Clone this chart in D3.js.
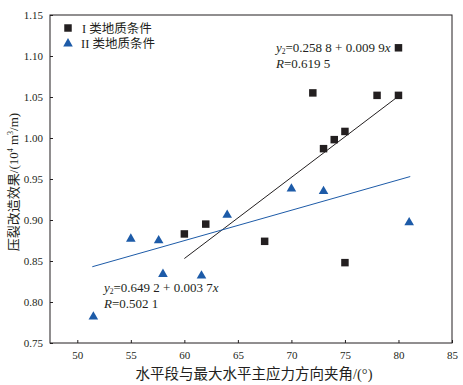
<!DOCTYPE html>
<head>
  <meta charset='utf-8'>
  <script src='https://d3js.org/d3.v7.min.js'></script>
  <style>
    body { margin: 0; background: #fff; }
    text { font-family: 'Liberation Serif', 'Times New Roman', 'Noto Sans CJK SC', serif; fill: #231f20; }
    .axis .domain { display: none; }
    .axis line { stroke: #231f20; }
  </style>
</head>

<body>
  <script>

// type I points (black squares)
const xI = [60, 62, 67.5, 72, 73, 74, 75, 75, 78, 80, 80];
const yI = [0.883, 0.895, 0.874, 1.055, 0.987, 0.998, 1.008, 0.848, 1.052, 1.052, 1.110];

// type II points (blue triangles)
const xII = [51.5, 55, 57.6, 58, 61.6, 64, 70, 73, 81];
const yII = [0.782, 0.877, 0.875, 0.834, 0.832, 0.906, 0.938, 0.935, 0.897];

// fitted lines, endpoints
const lineI = [[60, 0.853], [80, 1.051]];
const lineII = [[51.4, 0.843], [81.1, 0.953]];

const xTicks = [50, 55, 60, 65, 70, 75, 80, 85];
const yTicks = [0.75, 0.80, 0.85, 0.90, 0.95, 1.00, 1.05, 1.10, 1.15];

const legendLabels = ['I', 'II'];
const blue = '#1d5ba8', black = '#231f20';

const width = 463, height = 385,
  margin = {top: 15, right: 11, bottom: 42, left: 50},
  svg = d3.select('body').append('svg').attr('width', width).attr('height', height);

const x = d3.scaleLinear().domain([47.45, 85]).range([margin.left, width - margin.right]);
const y = d3.scaleLinear().domain([0.75, 1.15]).range([height - margin.bottom, margin.top]);

svg.append('rect')
  .attr('x', margin.left).attr('y', margin.top)
  .attr('width', width - margin.left - margin.right)
  .attr('height', height - margin.top - margin.bottom)
  .attr('fill', 'none').attr('stroke', '#231f20').attr('stroke-width', 1);

svg.append('g')
  .attr('class', 'axis')
  .attr('transform', `translate(0,${height - margin.bottom})`)
  .call(d3.axisBottom(x).tickValues(xTicks).tickSize(-3).tickPadding(8).tickFormat(d3.format('d')))
  .call(g => g.selectAll('text').attr('font-size', 11).attr('font-family', 'Liberation Serif').attr('fill', black));

svg.append('g')
  .attr('class', 'axis')
  .attr('transform', `translate(${margin.left},0)`)
  .call(d3.axisLeft(y).tickValues(yTicks).tickSize(-3).tickPadding(7).tickFormat(d3.format('.2f')))
  .call(g => g.selectAll('text').attr('font-size', 11).attr('font-family', 'Liberation Serif').attr('fill', black));

// fit lines
const line = d3.line().x(d => x(d[0])).y(d => y(d[1]));
svg.append('path').datum(lineI).attr('d', line).attr('fill', 'none').attr('stroke', black).attr('stroke-width', 1);
svg.append('path').datum(lineII).attr('d', line).attr('fill', 'none').attr('stroke', blue).attr('stroke-width', 1);

const sq = d3.symbol(d3.symbolSquare, 56);
const tri = d3.symbol(d3.symbolTriangle, 40);

svg.append('g').selectAll('path')
  .data(xI.map((d, i) => [d, yI[i]]))
  .enter().append('path')
  .attr('transform', d => `translate(${x(d[0])},${y(d[1])})`)
  .attr('d', sq)
  .attr('fill', black);

svg.append('g').selectAll('path')
  .data(xII.map((d, i) => [d, yII[i]]))
  .enter().append('path')
  .attr('transform', d => `translate(${x(d[0])},${y(d[1])})`)
  .attr('d', tri)
  .attr('fill', blue);

// legend
const legend = svg.append('g').selectAll('g')
  .data(legendLabels)
  .enter().append('g')
  .attr('transform', (d, i) => `translate(68,${28 + i * 15.6})`);

legend.append('path')
  .attr('d', (d, i) => i === 0 ? sq() : tri())
  .attr('fill', (d, i) => i === 0 ? black : blue);

legend.append('text')
  .attr('x', d => d === 'I' ? 14 : 13)
  .attr('y', 4.5)
  .attr('font-size', 12.5)
  .text(d => d + ' 类地质条件');

// equations
function equation(tx, ty, a, b, r) {
  const t = svg.append('text').attr('x', tx).attr('y', ty).attr('font-size', 13);
  t.append('tspan').attr('font-style', 'italic').text('y');
  t.append('tspan').attr('font-size', 7.5).attr('dy', 2).text('2');
  t.append('tspan').attr('dy', -2).text('=' + a + ' + ' + b);
  t.append('tspan').attr('font-style', 'italic').text('x');
  const t2 = svg.append('text').attr('x', tx).attr('y', ty + 16).attr('font-size', 13);
  t2.append('tspan').attr('font-style', 'italic').text('R');
  t2.append('tspan').text('=' + r);
}
equation(276, 52, '0.258 8', '0.009 9', '0.619 5');
equation(104, 292, '0.649 2', '0.003 7', '0.502 1');

// axis titles
svg.append('text')
  .attr('x', 254)
  .attr('y', 379)
  .attr('text-anchor', 'middle')
  .attr('font-size', 14.5)
  .text('水平段与最大水平主应力方向夹角/(°)');

const yt = svg.append('text')
  .attr('transform', 'translate(18,182) rotate(-90)')
  .attr('text-anchor', 'middle')
  .attr('font-size', 13);
yt.append('tspan').text('压裂改造效果/(10');
yt.append('tspan').attr('font-size', 8).attr('dy', -5).text('4');
yt.append('tspan').attr('dy', 5).text(' m');
yt.append('tspan').attr('font-size', 8).attr('dy', -5).text('3');
yt.append('tspan').attr('dy', 5).text('/m)');

  </script>
</body>
